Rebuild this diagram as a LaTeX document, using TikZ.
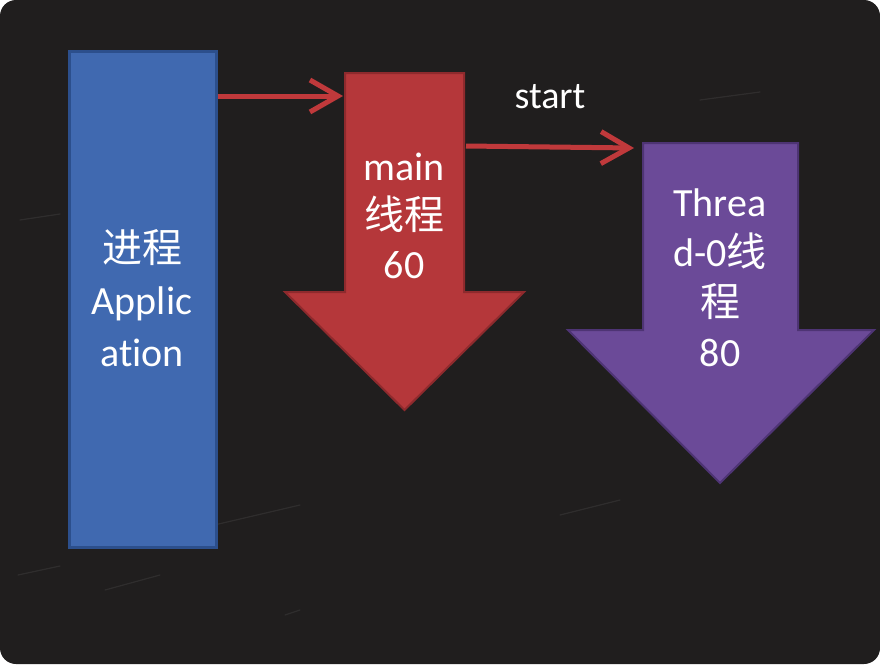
\documentclass[tikz,border=0pt]{standalone}
\usepackage{fontspec}
\setmainfont{Carlito}[Ligatures=NoCommon]
\newfontfamily\cjk{Noto Sans CJK SC}
\usetikzlibrary{arrows.meta}
\definecolor{board}{HTML}{201E1E}
\definecolor{procfill}{HTML}{4069B0}
\definecolor{procedge}{HTML}{2C4F8C}
\definecolor{mainfill}{HTML}{B5373A}
\definecolor{mainedge}{HTML}{8E2A2D}
\definecolor{thrfill}{HTML}{6B4A98}
\definecolor{thredge}{HTML}{4E3474}
\definecolor{linkred}{HTML}{C0393B}
\tikzset{
  x=1pt, y=-1pt,
  lbl/.style={text=white, align=center, font=\fontsize{40}{50}\selectfont, inner sep=0pt},
  link/.style={draw=linkred, line width=5pt, -{Straight Barb[length=28pt,width=32pt,line width=5pt]}},
  chalk/.style={white, opacity=0.07, line width=1.2pt, line cap=round}
}
\begin{document}
\begin{tikzpicture}
\useasboundingbox (0,0) rectangle (880,664);
\fill[white] (0,0) rectangle (880,664);
\fill[board, rounded corners=16pt] (0,0) rectangle (880,664);
% faint chalk marks
\draw[chalk] (105,590) -- (160,575);
\draw[chalk] (18,575) -- (60,566);
\draw[chalk] (285,615) -- (300,610);
\draw[chalk] (150,540) -- (300,505);
\draw[chalk] (560,515) -- (620,500);
\draw[chalk] (700,100) -- (760,92);
\draw[chalk] (20,220) -- (60,214);
% process block
\node[draw=procedge, fill=procfill, line width=3pt, minimum width=147pt, minimum height=496pt, inner sep=0pt] (app) at (142.5,299) {};
\node[lbl, font=\fontsize{40}{52}\selectfont] (apptext) at (142,298) {{\cjk 进程}\\Applic\\at\kern0pt ion};
% main thread arrow
\draw[mainedge, fill=mainfill, line width=2pt, line join=miter]
  (345,73) -- (464,73) -- (464,292) -- (524,292) -- (404.5,410) -- (285,292) -- (345,292) -- cycle;
\coordinate (mainin) at (343,96);
\coordinate (mainout) at (466,146);
\node[lbl, font=\fontsize{40}{49}\selectfont] (maintext) at (404,216) {main\\{\cjk 线程}\\60};
% thread-0 arrow
\draw[thredge, fill=thrfill, line width=2pt, line join=miter]
  (643,143) -- (798,143) -- (798,330) -- (874,330) -- (720,483) -- (568,330) -- (643,330) -- cycle;
\coordinate (thrin) at (634,148);
\node[lbl, font=\fontsize{40}{50}\selectfont] (thrtext) at (720,278) {Threa\\d-0{\cjk 线}\\{\cjk 程}\\80};
% connectors
\coordinate (appout) at (app.east |- mainin);
\draw[link] (appout) -- (mainin);
\draw[link] (mainout) -- (thrin);
\node[text=white, font=\fontsize{38}{46}\selectfont, inner sep=0pt] (start) at (550,97) {start};
\end{tikzpicture}
\end{document}
